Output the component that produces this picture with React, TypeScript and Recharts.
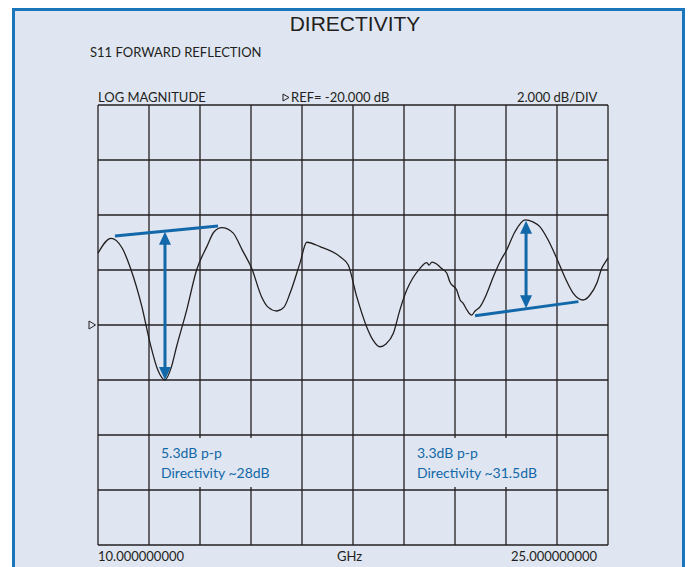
import { LineChart, Line, XAxis, YAxis, CartesianGrid, ReferenceLine } from "recharts";

// S11 trace (GHz, dB)
const freqGHz = [
  10.0, 10.38, 10.71, 10.94, 11.29, 11.53, 11.76, 11.97, 12.15, 12.31, 12.61, 12.9, 13.2, 13.41,
  13.64, 13.97, 14.24, 14.52, 14.81, 15.0, 15.26, 15.47, 15.65, 15.94, 16.14, 16.53, 17.12, 17.36,
  17.61, 17.9, 18.09, 18.29, 18.47, 18.69, 18.88, 19.08, 19.26, 19.47, 19.59, 19.67, 19.74, 19.82,
  19.96, 20.09, 20.26, 20.35, 20.55, 20.65, 20.74, 20.85, 20.99, 21.09, 21.24, 21.44, 21.63, 21.82,
  22.02, 22.26, 22.56, 22.79, 23.0, 23.24, 23.49, 23.74, 23.98, 24.27, 24.47, 24.67, 24.82, 24.96, 25.0,
];
const s11dB = [
  -17.39, -16.85, -17.2, -17.88, -19.33, -20.65, -21.64, -22.0, -21.56, -20.79, -19.45, -18.0, -17.15, -16.62,
  -16.46, -16.65, -17.27, -17.94, -18.97, -19.35, -19.49, -19.35, -18.84, -17.75, -16.99, -17.15, -17.52, -17.82,
  -18.97, -20.06, -20.55, -20.79, -20.69, -20.29, -19.45, -18.73, -18.29, -17.94, -17.78, -17.73, -17.82, -17.71,
  -17.78, -17.93, -18.12, -18.44, -18.73, -19.09, -19.21, -19.45, -19.64, -19.49, -19.33, -18.84, -18.24, -17.71,
  -17.27, -16.62, -16.18, -16.25, -16.43, -16.91, -17.57, -18.29, -18.85, -19.09, -18.91, -18.48, -17.93, -17.64, -17.56,
];

const xTicks = [10, 11.5, 13, 14.5, 16, 17.5, 19, 20.5, 22, 23.5, 25];
const yTicks = [-28, -26, -24, -22, -20, -18, -16, -14, -12];

// blue annotations: envelope lines and p-p arrows
const leftEnvelope = [{ x: 10.5, y: -16.76 }, { x: 13.53, y: -16.4 }];
const leftArrow = [{ x: 11.97, y: -16.61 }, { x: 11.97, y: -22.0 }];
const rightEnvelope = [{ x: 21.09, y: -19.66 }, { x: 24.13, y: -19.15 }];
const rightArrow = [{ x: 22.59, y: -16.21 }, { x: 22.59, y: -19.39 }];

const data = freqGHz.map((f, i) => ({ f, db: s11dB[i] }));

const BLUE = "#1268a8";
const INK = "#231f20";
const FONT = "Lato, 'Liberation Sans', sans-serif";

const DoubleArrow = (props: any) => {
  const { x1, y1, x2, y2 } = props;
  const top = Math.min(y1, y2);
  const bot = Math.max(y1, y2);
  const len = 13;
  const hw = 6;
  return (
    <g>
      <line x1={x1} y1={top + len - 2} x2={x2} y2={bot - len + 2} stroke={BLUE} strokeWidth={3} />
      <polygon points={`${x1},${top} ${x1 - hw},${top + len} ${x1 + hw},${top + len}`} fill={BLUE} />
      <polygon points={`${x1},${bot} ${x1 - hw},${bot - len} ${x1 + hw},${bot - len}`} fill={BLUE} />
    </g>
  );
};

const txt = (extra: any) => ({
  position: "absolute" as const,
  fontFamily: FONT,
  color: INK,
  whiteSpace: "nowrap" as const,
  lineHeight: 1,
  ...extra,
});

const noteBox = (left: number) => ({
  position: "absolute" as const,
  left,
  top: 438,
  width: 146,
  height: 49,
  background: "#dfe6f1",
});

export default function App() {
  return (
    <div style={{ position: "absolute", left: 0, top: 0, width: 688, height: 567, background: "#fff", overflow: "hidden" }}>
      <div
        style={{
          position: "absolute",
          left: 12,
          top: 8,
          width: 667,
          height: 580,
          border: "3px solid #1b75bb",
          background: "#dfe6f1",
        }}
      />
      <div
        style={txt({
          left: 0,
          width: 710,
          top: 13,
          fontSize: 21,
          textAlign: "center",
          fontFamily: "'Liberation Sans', Arial, sans-serif",
        })}
      >
        DIRECTIVITY
      </div>
      <div style={txt({ left: 90, top: 46, fontSize: 13 })}>S11 FORWARD REFLECTION</div>
      <div style={txt({ left: 98, top: 91, fontSize: 13 })}>LOG MAGNITUDE</div>
      <div style={txt({ left: 282, top: 91, fontSize: 13 })}>
        <svg width={8} height={9} style={{ marginRight: 1 }}>
          <polygon points="1,1 7,4.5 1,8" fill="none" stroke={INK} strokeWidth={1} />
        </svg>
        REF= -20.000 dB
      </div>
      <div style={txt({ left: 517, top: 91, fontSize: 13 })}>2.000 dB/DIV</div>

      <div style={{ position: "absolute", left: 0, top: 0 }}>
        <LineChart width={688} height={567} data={data} margin={{ top: 105, left: 98, right: 80, bottom: 22 }}>
          <CartesianGrid stroke={INK} strokeWidth={1.3} />
          <XAxis dataKey="f" type="number" domain={[10, 25]} ticks={xTicks} hide />
          <YAxis type="number" domain={[-28, -12]} ticks={yTicks} hide />
          <Line
            dataKey="db"
            type="monotone"
            stroke={INK}
            strokeWidth={1.3}
            dot={false}
            isAnimationActive={false}
          />
          <ReferenceLine segment={leftEnvelope} stroke={BLUE} strokeWidth={3} ifOverflow="visible" />
          <ReferenceLine segment={rightEnvelope} stroke={BLUE} strokeWidth={3} ifOverflow="visible" />
          <ReferenceLine segment={leftArrow} shape={DoubleArrow} ifOverflow="visible" />
          <ReferenceLine segment={rightArrow} shape={DoubleArrow} ifOverflow="visible" />
        </LineChart>
      </div>

      <svg style={{ position: "absolute", left: 88, top: 320 }} width={9} height={10}>
        <polygon points="1,1 7.5,5 1,9" fill="none" stroke={INK} strokeWidth={1} />
      </svg>

      <div style={noteBox(152)} />
      <div style={noteBox(407)} />
      <div style={txt({ left: 161, top: 443, fontSize: 14, color: BLUE, lineHeight: "20px" })}>
        5.3dB p-p
        <br />
        Directivity ~28dB
      </div>
      <div style={txt({ left: 417, top: 443, fontSize: 14, color: BLUE, lineHeight: "20px" })}>
        3.3dB p-p
        <br />
        Directivity ~31.5dB
      </div>

      <div style={txt({ left: 98, top: 550, fontSize: 13 })}>10.000000000</div>
      <div style={txt({ left: 337, top: 550, fontSize: 13 })}>GHz</div>
      <div style={txt({ left: 511, top: 550, fontSize: 13 })}>25.000000000</div>
    </div>
  );
}
